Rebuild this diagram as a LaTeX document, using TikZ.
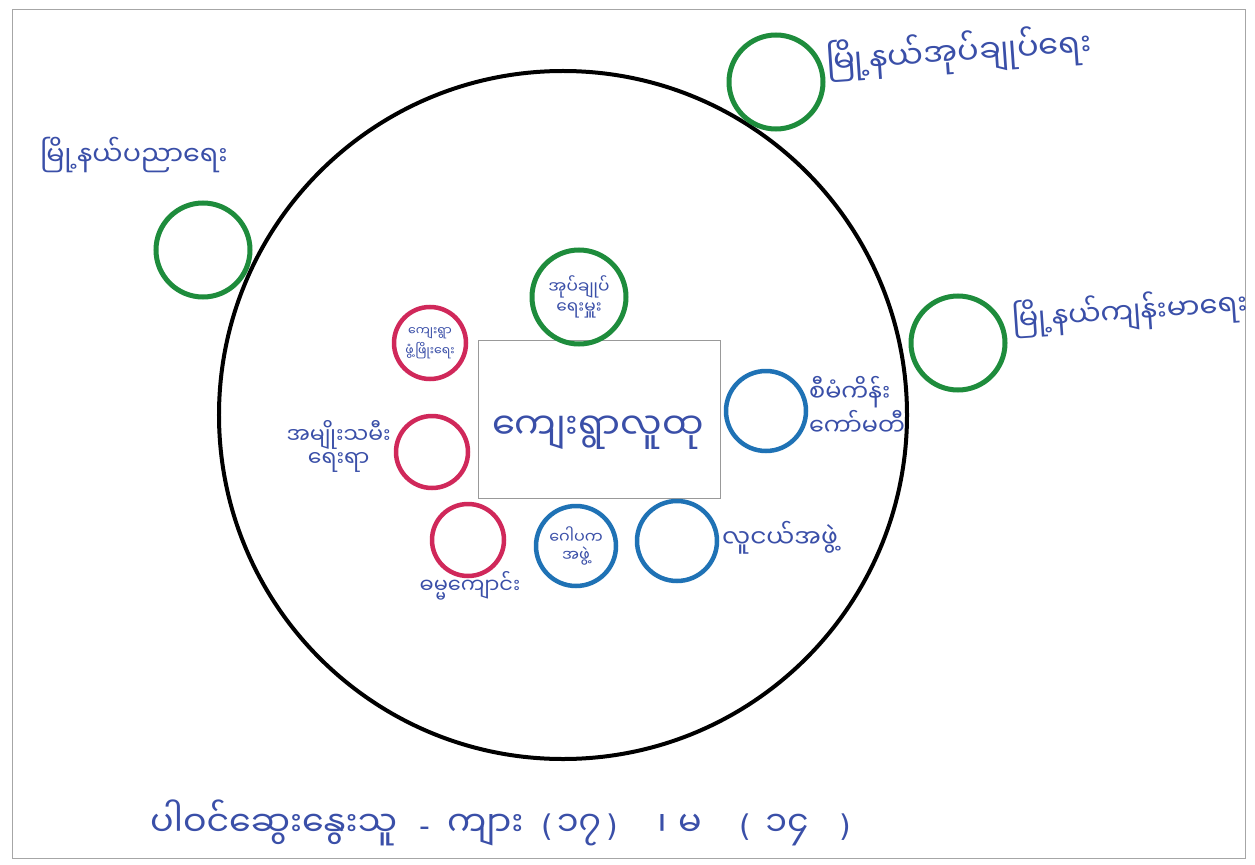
\documentclass[tikz,border=0pt]{standalone}
\usepackage{fontspec}
\newfontfamily\mm[Script=Myanmar]{Noto Sans Myanmar UI}
\newfontfamily\latn{DejaVu Sans}
\definecolor{grn}{HTML}{1E8C3C}
\definecolor{rd}{HTML}{D0285A}
\definecolor{bl}{HTML}{1F72B5}
\definecolor{ink}{HTML}{3A4FA8}
\newcommand{\fs}[1]{\fontsize{#1}{#1}\selectfont}
\begin{document}
\begin{tikzpicture}[x=1bp,y=-1bp,
  outergrn/.style={circle,draw=grn,line width=5bp,minimum size=94bp,inner sep=0pt},
  innergrn/.style={circle,draw=grn,line width=5bp,minimum size=94bp,inner sep=0pt},
  redc/.style={circle,draw=rd,line width=4.5bp,minimum size=72bp,inner sep=0pt},
  bluec/.style={circle,draw=bl,line width=4.5bp,minimum size=80bp,inner sep=0pt},
  lbl/.style={font=\mm,text=ink,inner sep=0pt,align=center},
  btm/.style={font=\mm\fs{35},text=ink,inner sep=0pt,anchor=base},
  punct/.style={font=\latn\fs{30},text=ink,inner sep=0pt,anchor=base}]
\useasboundingbox (0,0) rectangle (1255,865);
\fill[white] (0,0) rectangle (1255,865);
\node[draw=gray!70,line width=1bp,minimum width=1233bp,minimum height=848bp,inner sep=0pt] (frame) at (629,434) {};
% community circle
\node[circle,draw=black,line width=4bp,minimum size=688bp,inner sep=0pt] (comm) at (563,415) {};
% outer organisations
\node[outergrn] (tadmin) at (776,82) {};
\node[lbl,anchor=west,rotate=4,font=\mm\fs{32}] (tadminl) at (826,62) {မြို့နယ်အုပ်ချုပ်ရေး};
\node[outergrn] (tedu) at (203,250) {};
\node[lbl,anchor=west,font=\mm\fs{27}] (tedul) at (40,155) {မြို့နယ်ပညာရေး};
\node[outergrn] (thealth) at (958,343) {};
\node[lbl,anchor=west,rotate=4,font=\mm\fs{29}] (thealthl) at (1012,320) {မြို့နယ်ကျန်းမာရေး};
% core
\node[draw=gray!80,line width=1bp,minimum width=242bp,minimum height=158bp,inner sep=0pt] (core) at (599,419) {};
\node[lbl,font=\mm\fs{37}] (corel) at (598,433) {ကျေးရွာလူထု};
% inner circles
\node[innergrn,lbl,font=\mm\fs{17}] (vadmin) at (579,297) {အုပ်ချုပ်\\[3bp]ရေးမှူး};
\node[redc,lbl,font=\mm\fs{12.5}] (vdev) at (430,343) {ကျေးရွာ\\[3bp]ဖွံ့ဖြိုးရေး};
\node[redc] (women) at (432,452) {};
\node[lbl,anchor=east,font=\mm\fs{22}] (womenl) at (391,446) {အမျိုးသမီး\\[1bp]ရေးရာ};
\node[redc] (school) at (468,540) {};
\node[lbl,font=\mm\fs{21}] (schooll) at (470,586) {ဓမ္မကျောင်း};
\node[bluec,lbl,font=\mm\fs{16}] (trustee) at (576,546) {ဂေါပက\\[3bp]အဖွဲ့};
\node[bluec] (youth) at (677,541) {};
\node[lbl,anchor=west,font=\mm\fs{25}] (youthl) at (722,538) {လူငယ်အဖွဲ့};
\node[bluec] (plan) at (766,411) {};
\node[lbl,anchor=west,font=\mm\fs{24},align=left] (planl) at (809,406) {စီမံကိန်း\\[2bp]ကော်မတီ};
% participants
\node[btm,anchor=base west] (part) at (150,836) {ပါဝင်ဆွေးနွေးသူ};
\node[punct] (dash) at (425,836) {-};
\node[btm,anchor=base west] (male) at (447,836) {ကျား};
\node[punct] (mo) at (547,836) {(};
\node[btm] (mnum) at (579,836) {၁၇};
\node[punct] (mc) at (612,836) {)};
\node[btm] (sep) at (662,836) {၊};
\node[btm] (female) at (690,836) {မ};
\node[punct] (fo) at (745,836) {(};
\node[btm] (fnum) at (787,836) {၁၄};
\node[punct] (fc) at (845,836) {)};
\end{tikzpicture}
\end{document}
